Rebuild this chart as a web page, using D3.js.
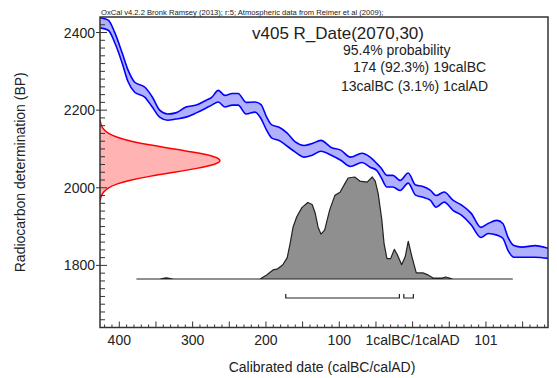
<html>
<head>
<meta charset="utf-8">
<title>v405 R_Date(2070,30)</title>
<script src="https://d3js.org/d3.v7.min.js"></script>
<style>
  body { margin: 0; background: #fff; }
  text { font-family: "Liberation Sans", Arial, sans-serif; fill: #222; }
</style>
</head>
<body>
<div id="chart"></div>
<script>
// calibration curve (astronomical years, BP, 1 sigma)
var curveYears = [-426,-415,-406,-396,-388,-379,-365,-355,-345,-334,-323,-309,-295,-282,-274,-265,-256,-246,-238,-227,-215,-207,-199,-192,-182,-171,-160,-148,-137,-125,-111,-98,-85,-69,-58,-49,-43,-35,-27,-17,-6,4,13,24,32,43,55,67,80,93,103,115,123,130,138,149,167,185];
var curveBP = [2425,2419,2386,2334,2288,2259,2246,2221,2191,2182,2185,2195,2203,2215,2223,2236,2223,2228,2228,2205,2208,2197,2165,2145,2139,2124,2105,2094,2099,2108,2094,2084,2067,2077,2066,2054,2039,2017,2017,2006,2025,1994,1990,1981,1965,1976,1955,1942,1919,1885,1895,1897,1889,1856,1836,1834,1836,1831];
var curveSigma = [13,13,13,13,15,13,13,13,9,8,8,13,10,10,10,15,15,15,15,15,13,18,17,17,17,17,13,15,15,14,10,13,12,12,13,9,12,15,15,13,13,13,14,13,15,13,13,13,15,13,13,19,19,17,15,13,15,13];

// calibrated probability (relative)
var postYears = [-376,-345,-336,-326,-208,-199,-190,-184,-177,-171,-167,-163,-158,-151,-143,-137,-133,-129,-125,-120,-113,-106,-99,-92,-88,-79,-72,-62,-55,-51,-47,-42,-39,-35,-30,-25,-21,-15,-10,-6,-1,5,14,21,28,40,45,55,136];
var postProb = [0,0,0.012,0,0,0.04,0.09,0.10,0.14,0.21,0.35,0.51,0.61,0.70,0.75,0.73,0.65,0.51,0.44,0.48,0.68,0.82,0.85,0.94,0.99,1.0,0.96,0.95,1.0,0.96,0.84,0.58,0.35,0.20,0.20,0.29,0.24,0.14,0.22,0.37,0.22,0.06,0.06,0.04,0.01,0.01,0.02,0,0];

// radiocarbon measurement
var likeBP = [2175,2170,2160,2150,2140,2130,2120,2110,2100,2090,2080,2070,2060,2050,2040,2030,2020,2010,2000,1990,1980,1970,1965];
var likeDens = [0,0.003,0.011,0.029,0.066,0.135,0.25,0.41,0.61,0.80,0.95,1.0,0.95,0.80,0.61,0.41,0.25,0.135,0.066,0.029,0.011,0.003,0];

// 95.4% ranges
var rangeStart = [-173, -12];
var rangeEnd = [-18, 1];

var xTickValues = [-400,-300,-200,-100,0,100];
var xTickLabels = ["400","300","200","100","1calBC/1calAD","101"];
var yTickValues = [1800,2000,2200,2400];

var width = 557, height = 378;
var pLeft = 100, pRight = 548, pTop = 17, pBottom = 327.5;

var svg = d3.select("#chart").append("svg")
    .attr("width", width)
    .attr("height", height);

var x = d3.scaleLinear().domain([-426.3, 184.6]).range([pLeft, pRight]);
var y = d3.scaleLinear().domain([1640, 2440]).range([pBottom, pTop]);
var pScale = d3.scaleLinear().domain([0, 1]).range([279, 177]);
var lScale = d3.scaleLinear().domain([0, 1]).range([pLeft, 222]);

svg.append("clipPath").attr("id", "plotclip")
  .append("rect").attr("x", pLeft).attr("y", pTop)
  .attr("width", pRight - pLeft).attr("height", pBottom - pTop);

var plot = svg.append("g").attr("clip-path", "url(#plotclip)");

// calibration curve band
var curveData = curveYears.map(function(d, i) {
  return { yr: d, bp: curveBP[i], s: curveSigma[i] };
});
var band = d3.area()
  .x(function(d) { return x(d.yr); })
  .y0(function(d) { return y(d.bp - d.s); })
  .y1(function(d) { return y(d.bp + d.s); })
  .curve(d3.curveMonotoneX);
plot.append("path").datum(curveData)
  .attr("d", band)
  .attr("fill", "#b0b0ff");
["-", "+"].forEach(function(sgn) {
  plot.append("path").datum(curveData)
    .attr("d", d3.line()
      .x(function(d) { return x(d.yr); })
      .y(function(d) { return y(sgn == "+" ? d.bp + d.s : d.bp - d.s); })
      .curve(d3.curveMonotoneX))
    .attr("fill", "none")
    .attr("stroke", "#0000ff")
    .attr("stroke-width", 1.6);
});

// measurement likelihood on the y axis
var likeData = likeBP.map(function(d, i) { return { bp: d, p: likeDens[i] }; });
plot.append("path").datum(likeData)
  .attr("d", d3.area()
    .y(function(d) { return y(d.bp); })
    .x0(pLeft)
    .x1(function(d) { return lScale(d.p); })
    .curve(d3.curveBasis))
  .attr("fill", "#ffb3b3");
plot.append("path").datum(likeData)
  .attr("d", d3.line()
    .y(function(d) { return y(d.bp); })
    .x(function(d) { return lScale(d.p); })
    .curve(d3.curveBasis))
  .attr("fill", "none")
  .attr("stroke", "#ff0000")
  .attr("stroke-width", 1.5);

// calibrated distribution
var postData = postYears.map(function(d, i) { return { yr: d, p: postProb[i] }; });
plot.append("path").datum(postData)
  .attr("d", d3.area()
    .x(function(d) { return x(d.yr); })
    .y0(pScale(0))
    .y1(function(d) { return pScale(d.p); }))
  .attr("fill", "#8f8f8f")
  .attr("stroke", "#222")
  .attr("stroke-width", 1.2)
  .attr("stroke-linejoin", "round");

// range brackets
rangeStart.forEach(function(s, i) {
  var x0 = x(s), x1 = x(rangeEnd[i]), yb = 298;
  plot.append("path")
    .attr("d", "M" + x0 + "," + (yb - 4) + "V" + yb + "H" + x1 + "V" + (yb - 4))
    .attr("fill", "none")
    .attr("stroke", "#222")
    .attr("stroke-width", 1.2);
});

// frame
svg.append("rect")
  .attr("x", pLeft).attr("y", pTop)
  .attr("width", pRight - pLeft).attr("height", pBottom - pTop)
  .attr("fill", "none")
  .attr("stroke", "#333")
  .attr("stroke-width", 1.5);

// y ticks
var yMinor = d3.range(1660, 2440, 20);
svg.selectAll(".yminor").data(yMinor).enter().append("line")
  .attr("x1", pLeft).attr("x2", function(d) { return yTickValues.indexOf(d) >= 0 ? pLeft + 7 : pLeft + 5; })
  .attr("y1", function(d) { return y(d); }).attr("y2", function(d) { return y(d); })
  .attr("stroke", "#333").attr("stroke-width", 1);
svg.selectAll(".ymajor").data(yTickValues).enter().append("line")
  .attr("x1", pLeft - 4).attr("x2", pLeft)
  .attr("y1", function(d) { return y(d); }).attr("y2", function(d) { return y(d); })
  .attr("stroke", "#333").attr("stroke-width", 1);
svg.selectAll(".ylab").data(yTickValues).enter().append("text")
  .attr("x", pLeft - 5).attr("y", function(d) { return y(d) + 5; })
  .attr("text-anchor", "end")
  .style("font-size", "14px")
  .text(function(d) { return d; });

// x ticks
var xMinor = d3.range(-420, 190, 10);
svg.selectAll(".xminor").data(xMinor).enter().append("line")
  .attr("x1", function(d) { return x(d); }).attr("x2", function(d) { return x(d); })
  .attr("y1", pBottom).attr("y2", function(d) { return d % 50 == 0 ? pBottom - 6 : pBottom - 3; })
  .attr("stroke", "#333").attr("stroke-width", 1);
svg.selectAll(".xlab").data(xTickValues).enter().append("text")
  .attr("x", function(d) { return x(d); }).attr("y", pBottom + 17)
  .attr("text-anchor", "middle")
  .style("font-size", "14px")
  .text(function(d, i) { return xTickLabels[i]; });

// labels
svg.append("text")
  .attr("x", 322).attr("y", 372)
  .attr("text-anchor", "middle")
  .style("font-size", "14px")
  .text("Calibrated date (calBC/calAD)");
svg.append("text")
  .attr("transform", "translate(25," + ((pTop + pBottom) / 2) + ") rotate(-90)")
  .attr("text-anchor", "middle")
  .style("font-size", "14px")
  .text("Radiocarbon determination (BP)");

svg.append("text")
  .attr("x", pLeft + 1).attr("y", 15)
  .style("font-size", "7.6px")
  .text("OxCal v4.2.2 Bronk Ramsey (2013); r:5; Atmospheric data from Reimer et al (2009);");

svg.append("text")
  .attr("x", 338).attr("y", 39)
  .attr("text-anchor", "middle")
  .style("font-size", "17px")
  .text("v405 R_Date(2070,30)");
svg.append("text").attr("x", 343).attr("y", 55).style("font-size", "14px").text("95.4% probability");
svg.append("text").attr("x", 353).attr("y", 72).style("font-size", "14px").text("174 (92.3%) 19calBC");
svg.append("text").attr("x", 341).attr("y", 91).style("font-size", "14px").text("13calBC (3.1%) 1calAD");
</script>
</body>
</html>
